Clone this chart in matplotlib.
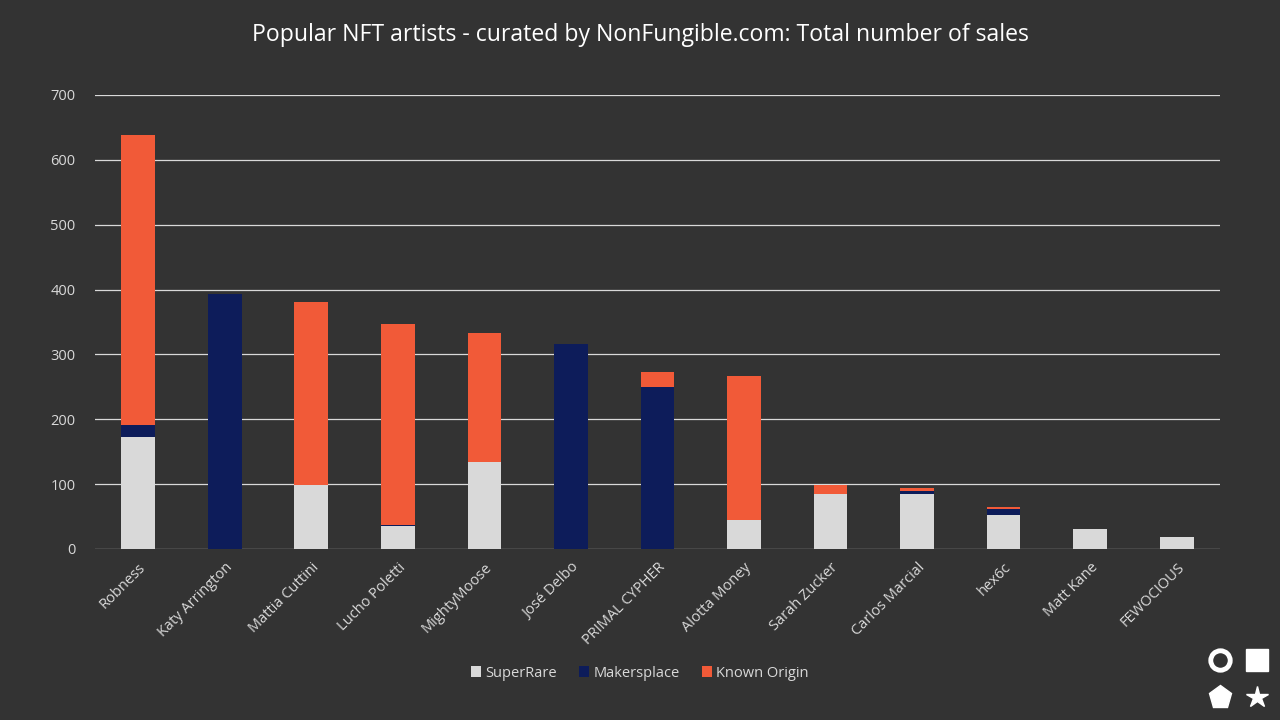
import matplotlib
matplotlib.use("Agg")
import matplotlib.pyplot as plt
import numpy as np

artists = ["Robness", "Katy Arrington", "Mattia Cuttini", "Lucho Poletti", "MightyMoose",
           "José Delbo", "PRIMAL CYPHER", "Alotta Money", "Sarah Zucker", "Carlos Marcial",
           "hex6c", "Matt Kane", "FEWOCIOUS"]
superrare = [172, 0, 99, 36, 134, 0, 0, 45, 85, 85, 52, 31, 18]
makersplace = [19, 393, 0, 1, 0, 316, 250, 0, 0, 4, 9, 0, 0]
known_origin = [447, 0, 282, 310, 199, 0, 23, 222, 13, 5, 3, 0, 0]
yticks = [0, 100, 200, 300, 400, 500, 600, 700]

BG = "#333333"
TXT = "#d9d9d9"
C_SR = "#d9d9d9"
C_MP = "#0d1c5a"
C_KO = "#f15a38"

plt.rcParams["font.family"] = ["Open Sans", "DejaVu Sans"]

fig = plt.figure(figsize=(12.8, 7.2), dpi=100)
fig.patch.set_facecolor(BG)
ax = fig.add_axes([0.0742, 0.2375, 0.8789, 0.6306])
ax.set_facecolor(BG)

x = np.arange(len(artists))
sr = np.array(superrare)
mp = np.array(makersplace)
ko = np.array(known_origin)
w = 0.39
ax.bar(x, sr, w, color=C_SR, label="SuperRare", zorder=3)
ax.bar(x, mp, w, bottom=sr, color=C_MP, label="Makersplace", zorder=3)
ax.bar(x, ko, w, bottom=sr + mp, color=C_KO, label="Known Origin", zorder=3)

ax.set_xlim(-0.5, len(artists) - 0.5)
ax.set_ylim(0, 700)
ax.set_yticks(yticks)
ax.yaxis.grid(True, color="#d9d9d9", linewidth=0.9, zorder=0)
ax.set_axisbelow(True)
for spine in ax.spines.values():
    spine.set_visible(False)
ax.tick_params(axis="y", colors=TXT, length=0, labelsize=10.5, pad=14)
ax.tick_params(axis="x", colors=TXT, length=0, labelsize=10.5, pad=8)
ax.set_xticks(x)
ax.set_xticklabels(artists, rotation=45, ha="right", rotation_mode="anchor")

fig.text(0.5, 0.952, "Popular NFT artists - curated by NonFungible.com: Total number of sales",
         ha="center", va="center", color="white", fontsize=16.6)

leg = fig.legend(loc="center", bbox_to_anchor=(0.5, 0.065), ncol=3, frameon=False,
                 fontsize=10.5, handlelength=0.7, handleheight=0.7, handletextpad=0.3,
                 columnspacing=1.5)
for t in leg.get_texts():
    t.set_color(TXT)

# logo in the bottom-right corner
lax = fig.add_axes([0.935, 0.0, 0.065, 0.115])
lax.set_facecolor(BG)
lax.set_xlim(0, 2)
lax.set_ylim(0, 2)
lax.axis("off")
lax.plot([0.55], [1.45], marker="o", markersize=14, markerfacecolor="none",
         markeredgecolor="white", markeredgewidth=3.5)
lax.plot([1.45], [1.45], marker="s", markersize=16, color="white")
lax.plot([0.55], [0.55], marker="p", markersize=17, color="white")
lax.plot([1.45], [0.55], marker="*", markersize=16, color="white")

fig.savefig("out.png", dpi=100, facecolor=fig.get_facecolor())
